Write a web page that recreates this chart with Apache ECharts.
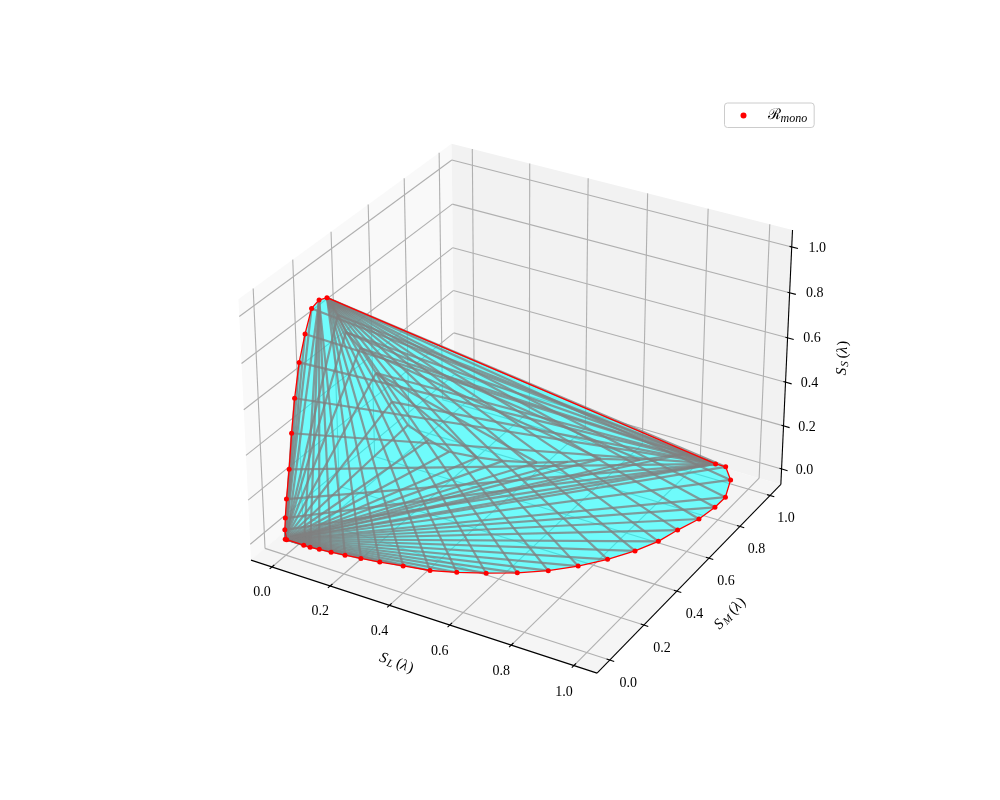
<!DOCTYPE html>
<html><head><meta charset="utf-8"><style>html,body{margin:0;background:#fff}#c{width:1000px;height:800px}</style>
<script src="https://cdn.jsdelivr.net/npm/echarts@6/dist/echarts.min.js"></script></head>
<body><div id="c"></div>
<script>
// Tick labels shared by the three axes
const tickValues = [0, 0.2, 0.4, 0.6, 0.8, 1.0];
const tickLabels = ['0.0', '0.2', '0.4', '0.6', '0.8', '1.0'];
// Rising edge of the locus: origin towards the S peak
const riseL = [0.000, 0.002, 0.006, 0.014, 0.022, 0.031, 0.043, 0.057, 0.072, 0.043, 0.078];
const riseM = [0.000, 0.002, 0.006, 0.014, 0.022, 0.031, 0.043, 0.057, 0.072, 0.154, 0.142];
const riseS = [0.043, 0.096, 0.181, 0.312, 0.470, 0.621, 0.773, 0.891, 0.996, 0.970, 1.000];
// Inner chain from the S peak towards the M peak (inside the hull)
const backL = [0.111, 0.125, 0.150, 0.178, 0.206, 0.235, 0.274, 0.312, 0.366, 0.416, 0.482, 0.543, 0.609, 0.687, 0.790];
const backM = [0.145, 0.162, 0.195, 0.231, 0.268, 0.306, 0.357, 0.406, 0.476, 0.541, 0.627, 0.706, 0.792, 0.893, 0.999];
const backS = [0.936, 0.857, 0.777, 0.655, 0.514, 0.397, 0.310, 0.238, 0.185, 0.144, 0.103, 0.076, 0.056, 0.012, 0.010];
// Floor arc: origin round to the M peak (S is about 0)
const arcL = [0.000, 0.005, 0.064, 0.086, 0.115, 0.153, 0.196, 0.245, 0.302, 0.371, 0.450, 0.521, 0.596, 0.672, 0.743, 0.805, 0.861, 0.908, 0.942, 0.962, 0.988, 0.999, 1.000, 0.969, 0.922, 0.888];
const arcM = [0.000, 0.000, 0.000, 0.000, 0.004, 0.008, 0.015, 0.023, 0.034, 0.050, 0.068, 0.098, 0.136, 0.182, 0.236, 0.300, 0.373, 0.452, 0.531, 0.613, 0.698, 0.779, 0.845, 0.940, 1.000, 1.000];
const arcS = arcL.map(() => 0.000);
// Hull edges between points of the inner chain (index pairs)
const chordFrom = [3, 3, 2, 1];
const chordTo = [8, 10, 12, 13];

// Matplotlib's default 3D view (elev 30, azim -60, box 4:4:3)
const LO = -0.0729, HI = 1.0729;
const f3 = 1.8294640721620434 * 25 / 24 / Math.sqrt(41), BOX = [4 * f3, 4 * f3, 3 * f3];
const el = Math.PI / 6, az = -Math.PI / 3;
const W = [Math.cos(el) * Math.cos(az), Math.cos(el) * Math.sin(az), Math.sin(el)];
const U = [-Math.sin(az), Math.cos(az), 0];
const V = [W[1] * U[2] - W[2] * U[1], W[2] * U[0] - W[0] * U[2], W[0] * U[1] - W[1] * U[0]];
const EYE = BOX.map((b, i) => b / 2 + 10 * W[i]);
const dot = (a, b) => a[0] * b[0] + a[1] * b[1] + a[2] * b[2];
function proj(p) {
  const d = p.map((t, i) => BOX[i] * (t - LO) / (HI - LO) - EYE[i]);
  const z = -dot(W, d), x = dot(U, d) / z, y = dot(V, d) / z;
  return [204.5 + (x + 0.095) / 0.185 * 616, 712 - (y + 0.095) / 0.185 * 616];
}
const tri = (a, b, c) => a.map((v, i) => [v, b[i], c[i]]);
const rise = tri(riseL, riseM, riseS), back = tri(backL, backM, backS), arc = tri(arcL, arcM, arcS);
const origin = arc[0], peak = rise[rise.length - 1], tip = arc[arc.length - 1];

const seg = (a, b) => { const p = proj(a), q = proj(b); return [p[0], p[1], q[0], q[1]]; };
const path = pts => pts.slice(1).map((q, i) => seg(pts[i], q));

const grid = [];
tickValues.forEach(t => {
  grid.push(...path([[t, LO, LO], [t, HI, LO], [t, HI, HI]]));
  grid.push(...path([[HI, t, LO], [LO, t, LO], [LO, t, HI]]));
  grid.push(...path([[LO, LO, t], [LO, HI, t], [HI, HI, t]]));
});
const panes = [
  { c: '#f9f9f9', pts: [[LO, LO, LO], [LO, HI, LO], [LO, HI, HI], [LO, LO, HI]] },
  { c: '#f2f2f2', pts: [[LO, HI, LO], [HI, HI, LO], [HI, HI, HI], [LO, HI, HI]] },
  { c: '#f5f5f5', pts: [[LO, LO, LO], [HI, LO, LO], [HI, HI, LO], [LO, HI, LO]] }
];
const axisSegs = path([[LO, LO, LO], [HI, LO, LO], [HI, HI, LO], [HI, HI, HI]]);
tickValues.forEach(t => {
  axisSegs.push(seg([t, LO - 0.012, LO], [t, LO + 0.012, LO]));
  axisSegs.push(seg([HI - 0.010, t, LO], [HI + 0.014, t, LO]));
  axisSegs.push(seg([HI - 0.007, HI, t], [HI + 0.020, HI, t]));
});
const hullEdges = [];
arc.slice(1).forEach(p => hullEdges.push(seg(origin, p)));
arc.slice(7, -1).forEach(p => hullEdges.push(seg(peak, p)));
arc.slice(1, 7).forEach(p => hullEdges.push(seg(rise[9], p)));
back.forEach(p => hullEdges.push(seg(origin, p)));
back.slice(0, 5).forEach(p => hullEdges.push(seg(tip, p)));
rise.slice(0, -2).forEach(p => hullEdges.push(seg(tip, p)));
rise.slice(3, 9).forEach(p => hullEdges.push(seg(origin, p)));
hullEdges.push(...path([peak, ...back, tip]));
chordFrom.forEach((a, i) => hullEdges.push(seg(back[a], back[chordTo[i]])));

const outline = [...rise, ...arc.slice().reverse()].map(proj);
const dots = [...rise, ...arc].map(proj);

const texts = [];
tickValues.forEach((t, i) => {
  let q = proj([t, LO, LO]); texts.push([q[0] - 10, q[1] + 25.5 + 1.5 * t, tickLabels[i], 0]);
  q = proj([HI, t, LO]); texts.push([q[0] + 18.5 - 2.5 * t, q[1] + 23, tickLabels[i], 0]);
  q = proj([HI, HI, t]); texts.push([q[0] + 23 + 2.5 * t, q[1] + 1, tickLabels[i], 0]);
});
let qq = proj([0.5, LO, LO]); texts.push([qq[0] - 23, qq[1] + 48, '{i|S}{s|L}{n|(}{i|λ}{n|)}', -20]);
qq = proj([HI, 0.5, LO]); texts.push([qq[0] + 37, qq[1] + 39, '{i|S}{s|M}{n|(}{i|λ}{n|)}', 45.7]);
qq = proj([HI, HI, 0.5]); texts.push([qq[0] + 56, qq[1] - 2, '{i|S}{s|S}{n|(}{i|λ}{n|)}', 87.3]);

const rich = {
  i: { fontFamily: 'Liberation Serif', fontStyle: 'italic', fontSize: 15, fill: '#000', padding: [0, 1, 0, 0] },
  n: { fontFamily: 'Liberation Serif', fontSize: 15, fill: '#000' },
  s: { fontFamily: 'Liberation Serif', fontStyle: 'italic', fontSize: 11, fill: '#000', padding: [6, 3, 0, 0] }
};

function lineSeries(data, stroke, width, z) {
  return {
    type: 'custom', coordinateSystem: 'cartesian2d', silent: true, z, clip: false,
    data,
    renderItem: (p, api) => {
      const a = api.coord([api.value(0), api.value(1)]), b = api.coord([api.value(2), api.value(3)]);
      return { type: 'line', shape: { x1: a[0], y1: a[1], x2: b[0], y2: b[1] }, style: { stroke, lineWidth: width, fill: null } };
    }
  };
}
function polySeries(polys, z) {
  return {
    type: 'custom', coordinateSystem: 'cartesian2d', silent: true, z, clip: false,
    data: polys.map((_, i) => [i]),
    renderItem: (p, api) => {
      const g = polys[api.value(0)];
      return { type: 'polygon', shape: { points: g.pts.map(q => api.coord(q)) }, style: { fill: g.c, stroke: null, lineWidth: 0 } };
    }
  };
}
const chart = echarts.init(document.getElementById('c'), null, { renderer: 'canvas' });
chart.setOption({
  animation: false, backgroundColor: '#fff',
  grid: { left: 0, right: 0, top: 0, bottom: 0 },
  xAxis: { type: 'value', min: 0, max: 1000, show: false },
  yAxis: { type: 'value', min: 0, max: 800, inverse: true, show: false },
  legend: {
    left: 724.5, top: 103, padding: [5, 7, 3, 16], orient: 'horizontal',
    borderColor: '#cccccc', borderWidth: 1, borderRadius: 3, backgroundColor: '#fff',
    itemWidth: 6, itemHeight: 6, data: [{ name: 'Rmono', icon: 'circle', itemStyle: { opacity: 1 } }],
    formatter: () => '{r|ℛ}{m|mono}',
    textStyle: { padding: [0, 0, 0, 16], rich: {
      r: { fontFamily: 'DejaVu Serif', fontSize: 15, color: '#000' },
      m: { fontFamily: 'Liberation Serif', fontStyle: 'italic', fontSize: 12, color: '#000', padding: [6, 0, 0, 0] }
    } }
  },
  series: [
    polySeries(panes.map(p => ({ c: p.c, pts: p.pts.map(proj) })), 1),
    lineSeries(grid, '#b0b0b0', 1.1, 2),
    lineSeries(axisSegs, '#000', 1.1, 3),
    polySeries([{ c: 'rgba(0,255,255,0.55)', pts: outline }], 4),
    lineSeries(hullEdges, 'rgba(128,128,128,0.78)', 2.2, 5),
    {
      type: 'line', coordinateSystem: 'cartesian2d', silent: true, z: 6, data: [...outline, outline[0]],
      showSymbol: false, symbol: 'none', lineStyle: { color: '#ff0000', width: 1.3 }
    },
    {
      type: 'scatter', name: 'Rmono', coordinateSystem: 'cartesian2d', silent: true, z: 7, data: dots,
      symbol: 'circle', symbolSize: 5, itemStyle: { color: '#ff0000', opacity: 1 }
    },
    {
      type: 'custom', coordinateSystem: 'cartesian2d', silent: true, z: 8, clip: false,
      data: texts.map((t, i) => [t[0], t[1], i]),
      renderItem: (p, api) => {
        const t = texts[api.value(2)], c = api.coord([t[0], t[1]]);
        const style = { text: t[2], x: 0, y: 0, align: 'center', verticalAlign: 'middle', fill: '#000', font: '14px "Liberation Serif"' };
        if (t[2].startsWith('{')) style.rich = rich;
        return { type: 'text', x: c[0], y: c[1], rotation: t[3] * Math.PI / 180, style };
      }
    }
  ]
});
</script></body></html>
